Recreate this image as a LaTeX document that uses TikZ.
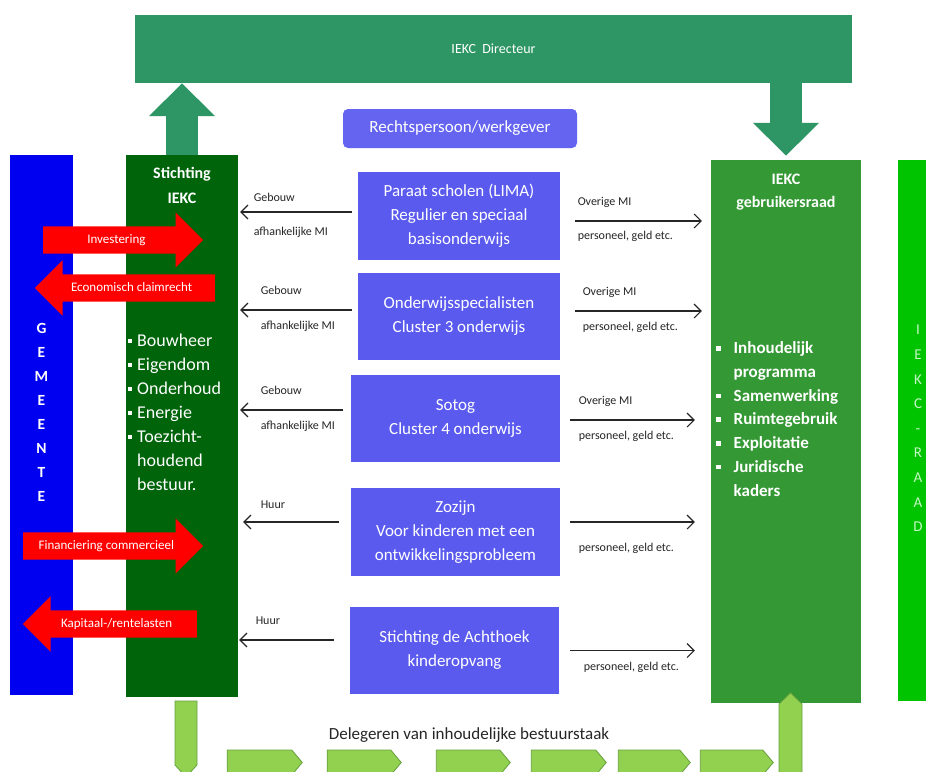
\documentclass[tikz,border=0pt]{standalone}
\usepackage{fontspec}
\setmainfont{Carlito}
\usetikzlibrary{positioning}
\usetikzlibrary{arrows.meta}
\usetikzlibrary{shapes.arrows}
\usetikzlibrary{shapes.symbols}

\definecolor{dirGreen}{RGB}{46,150,100}
\definecolor{gemBlue}{RGB}{0,0,240}
\definecolor{stichGreen}{RGB}{0,100,10}
\definecolor{raadGreen}{RGB}{52,152,52}
\definecolor{iekcGreen}{RGB}{0,196,0}
\definecolor{raadLetter}{RGB}{196,248,196}
\definecolor{schoolBlue}{RGB}{90,90,238}
\definecolor{juriBlue}{RGB}{100,100,240}
\definecolor{chevGreen}{RGB}{146,208,80}
\definecolor{chevEdge}{RGB}{100,160,60}

\newcommand{\blt}{\rule[3pt]{4pt}{4pt}\hspace{5pt}}
\newcommand{\bltWide}{\rule[3pt]{4.5pt}{4.5pt}\hspace{13pt}}

\begin{document}
\begin{tikzpicture}
    [x=1pt, y=-1pt,
     boxPlain/.style={rectangle, inner sep=0pt, text=white},
     boxPurple/.style={boxPlain, fill=schoolBlue, minimum height=87pt, align=center, font=\fontsize{17}{24}\selectfont},
     arrowRed/.style={single arrow, fill=red, text=white, inner xsep=0pt, inner ysep=8pt, text height=8.5pt, text depth=2.5pt, single arrow head extend=14pt, font=\fontsize{13}{13}\selectfont},
     arrowBig/.style={draw=dirGreen, line width=32pt, -{Triangle[length=33pt,width=64pt]}},
     flowLine/.style={draw=black!85, line width=1.1pt, -{Straight Barb[length=7pt,width=14pt]}},
     labelSmall/.style={inner sep=0pt, text height=8pt, text depth=2.5pt, font=\fontsize{12}{12}\selectfont, text=black!85},
     chevronGreen/.style={signal, signal to=east, signal pointer angle=100, fill=chevGreen, draw=chevEdge, line width=0.8pt, inner sep=0pt, minimum height=25pt},
    ]

    \useasboundingbox (0,0) rectangle (926,771);
    \clip (0,0) rectangle (926,771);
    \fill[white] (0,0) rectangle (926,771);

    % top
    \node[boxPlain, fill=dirGreen, minimum width=717pt, minimum height=68pt, font=\fontsize{14}{14}\selectfont] (directeur) at (493.5,49) {IEKC\ \ Directeur};
    \node[boxPlain, fill=juriBlue, rounded corners=5pt, minimum width=234pt, minimum height=39pt, font=\fontsize{17}{17}\selectfont] (rechtspersoon) at (460,128.5) {Rechtspersoon/werkgever};

    % left columns
    \node[boxPlain, fill=gemBlue, minimum width=63pt, minimum height=540pt] (gemeente) at (41.5,425) {};
    \node[boxPlain, align=center, font=\bfseries\fontsize{15.5}{24}\selectfont] (gemeenteText) at (41.5,412) {G\\E\\M\\E\\E\\N\\T\\E};

    \node[boxPlain, fill=stichGreen, minimum width=112pt, minimum height=542pt] (stichting) at (182,426) {};
    \node[boxPlain, align=center, font=\bfseries\fontsize{16}{25}\selectfont] (stichtingTitle) at (182,185) {Stichting\\IEKC};
    \node[boxPlain, align=left, anchor=west, font=\fontsize{18}{24}\selectfont] (stichtingTasks) at (128,412)
        {\blt Bouwheer\\\blt Eigendom\\\blt Onderhoud\\\blt Energie\\\blt Toezicht-\\\hphantom{\blt}houdend\\\hphantom{\blt}bestuur.};

    \node[arrowRed, minimum height=160pt, anchor=tail] (investering) at (43,240) {Investering};
    \node[arrowRed, shape border rotate=180, minimum height=180pt, anchor=tail] (claimrecht) at (215,288) {Economisch claimrecht};
    \node[arrowRed, minimum height=180pt, anchor=tail] (financiering) at (23,546) {Financiering commercieel};
    \node[arrowRed, shape border rotate=180, minimum height=174pt, anchor=tail] (lasten) at (197,624) {Kapitaal-/rentelasten};

    % schools
    \node[boxPurple, minimum width=202pt, minimum height=88pt] (paraat) at (459,216) {Paraat scholen (LIMA)\\Regulier en speciaal\\basisonderwijs};
    \node[boxPurple, minimum width=202pt] (specialisten) at (459,316.5) {Onderwijsspecialisten\\Cluster 3 onderwijs};
    \node[boxPurple, minimum width=209pt] (sotog) at (455.5,418.5) {Sotog\\Cluster 4 onderwijs};
    \node[boxPurple, minimum width=209pt, minimum height=88pt] (zozijn) at (455.5,532) {Zozijn\\Voor kinderen met een\\ontwikkelingsprobleem};
    \node[boxPurple, minimum width=209pt] (achthoek) at (454.5,650.5) {Stichting de Achthoek\\kinderopvang};

    % right columns
    \node[boxPlain, fill=raadGreen, minimum width=150pt, minimum height=543pt] (gebruikersraad) at (786,431.5) {};
    \node[boxPlain, align=center, font=\bfseries\fontsize{16}{23}\selectfont] (gebruikersraadTitle) at (786,192.5) {IEKC\\gebruikersraad};
    \node[boxPlain, align=left, anchor=west, font=\bfseries\fontsize{17}{23.7}\selectfont] (gebruikersraadTasks) at (716,419)
        {\bltWide Inhoudelijk\\\hphantom{\bltWide}programma\\\bltWide Samenwerking\\\bltWide Ruimtegebruik\\\bltWide Exploitatie\\\bltWide Juridische\\\hphantom{\bltWide}kaders};

    \node[boxPlain, fill=iekcGreen, minimum width=40pt, minimum height=541pt] (iekcRaad) at (918,430.5) {};
    \node[boxPlain, text=raadLetter, align=center, font=\fontsize{15}{24.6}\selectfont] (iekcRaadText) at (918,428.5) {I\\E\\K\\C\\-\\R\\A\\A\\D};

    % directeur arrows
    \draw[arrowBig] (stichting.north) -- (stichting.north |- directeur.south);
    \draw[arrowBig, shorten >=4pt] (gebruikersraad.north |- directeur.south) -- (gebruikersraad.north);

    % to stichting
    \draw[flowLine, shorten <=6pt, shorten >=2pt] ([yshift=4pt]paraat.west) -- ([yshift=4pt]paraat.west -| stichting.east)
        node[labelSmall, pos=1, anchor=west, xshift=15pt, yshift=13pt] (gebouwA) {Gebouw}
        node[labelSmall, pos=1, anchor=west, xshift=15pt, yshift=-21pt] (afhankelijkA) {afhankelijke MI};
    \draw[flowLine, shorten <=6pt, shorten >=2pt] ([yshift=6.5pt]specialisten.west) -- ([yshift=6.5pt]specialisten.west -| stichting.east)
        node[labelSmall, pos=1, anchor=west, xshift=22pt, yshift=18pt] (gebouwB) {Gebouw}
        node[labelSmall, pos=1, anchor=west, xshift=22pt, yshift=-17pt] (afhankelijkB) {afhankelijke MI};
    \draw[flowLine, shorten <=8pt, shorten >=2pt] ([yshift=8.5pt]sotog.west) -- ([yshift=8.5pt]sotog.west -| stichting.east)
        node[labelSmall, pos=1, anchor=west, xshift=22pt, yshift=18pt] (gebouwC) {Gebouw}
        node[labelSmall, pos=1, anchor=west, xshift=22pt, yshift=-17pt] (afhankelijkC) {afhankelijke MI};
    \draw[flowLine, shorten <=12pt, shorten >=5pt] ([yshift=10pt]zozijn.west) -- ([yshift=10pt]zozijn.west -| stichting.east)
        node[labelSmall, pos=1, anchor=west, xshift=22pt, yshift=16pt] (huurD) {Huur};
    \draw[flowLine, shorten <=16pt, shorten >=1pt] ([yshift=10.5pt]achthoek.west) -- ([yshift=10.5pt]achthoek.west -| stichting.east)
        node[labelSmall, pos=1, anchor=west, xshift=17pt, yshift=18pt] (huurE) {Huur};

    % to gebruikersraad
    \draw[flowLine, shorten <=15pt, shorten >=9pt] ([yshift=-5pt]paraat.east) -- ([yshift=-5pt]paraat.east -| gebruikersraad.west)
        node[labelSmall, pos=0, anchor=west, xshift=17pt, yshift=18pt] (overigA) {Overige MI}
        node[labelSmall, pos=0, anchor=west, xshift=17pt, yshift=-16pt] (personeelA) {personeel, geld etc.};
    \draw[flowLine, shorten <=15pt, shorten >=9pt] ([yshift=5.5pt]specialisten.east) -- ([yshift=5.5pt]specialisten.east -| gebruikersraad.west)
        node[labelSmall, pos=0, anchor=west, xshift=22pt, yshift=18pt] (overigB) {Overige MI}
        node[labelSmall, pos=0, anchor=west, xshift=22pt, yshift=-17pt] (personeelB) {personeel, geld etc.};
    \draw[flowLine, shorten <=10pt, shorten >=16pt] ([yshift=-1.5pt]sotog.east) -- ([yshift=-1.5pt]sotog.east -| gebruikersraad.west)
        node[labelSmall, pos=0, anchor=west, xshift=18pt, yshift=18pt] (overigC) {Overige MI}
        node[labelSmall, pos=0, anchor=west, xshift=18pt, yshift=-17pt] (personeelC) {personeel, geld etc.};
    \draw[flowLine, shorten <=10pt, shorten >=16pt] ([yshift=10pt]zozijn.east) -- ([yshift=10pt]zozijn.east -| gebruikersraad.west)
        node[labelSmall, pos=0, anchor=west, xshift=18pt, yshift=-27pt] (personeelD) {personeel, geld etc.};
    \draw[flowLine, shorten <=11pt, shorten >=16pt] (achthoek.east) -- (achthoek.east -| gebruikersraad.west)
        node[labelSmall, pos=0, anchor=west, xshift=24pt, yshift=-17pt] (personeelE) {personeel, geld etc.};

    % delegeren
    \node[inner sep=0pt, font=\fontsize{17}{17}\selectfont, text=black!85] (delegeren) at (469,735) {Delegeren van inhoudelijke bestuurstaak};
    \node[chevronGreen, signal to=south, signal pointer angle=85, minimum width=22pt, minimum height=64pt] (delegeerStart) at (186,733) {};
    \node[chevronGreen, minimum width=75pt] (stapA) at (259.5,762.5) {};
    \node[chevronGreen, minimum width=74pt] (stapB) at (359,762.5) {};
    \node[chevronGreen, minimum width=74pt] (stapC) at (468,762.5) {};
    \node[chevronGreen, minimum width=75pt] (stapD) at (563.5,762.5) {};
    \node[chevronGreen, minimum width=72pt] (stapE) at (649,762.5) {};
    \node[chevronGreen, minimum width=73pt] (stapF) at (731.5,762.5) {};
    \node[chevronGreen, signal to=north, signal pointer angle=92, minimum width=23pt, minimum height=86pt] (delegeerEnd) at (790.5,747) {};

\end{tikzpicture}
\end{document}
